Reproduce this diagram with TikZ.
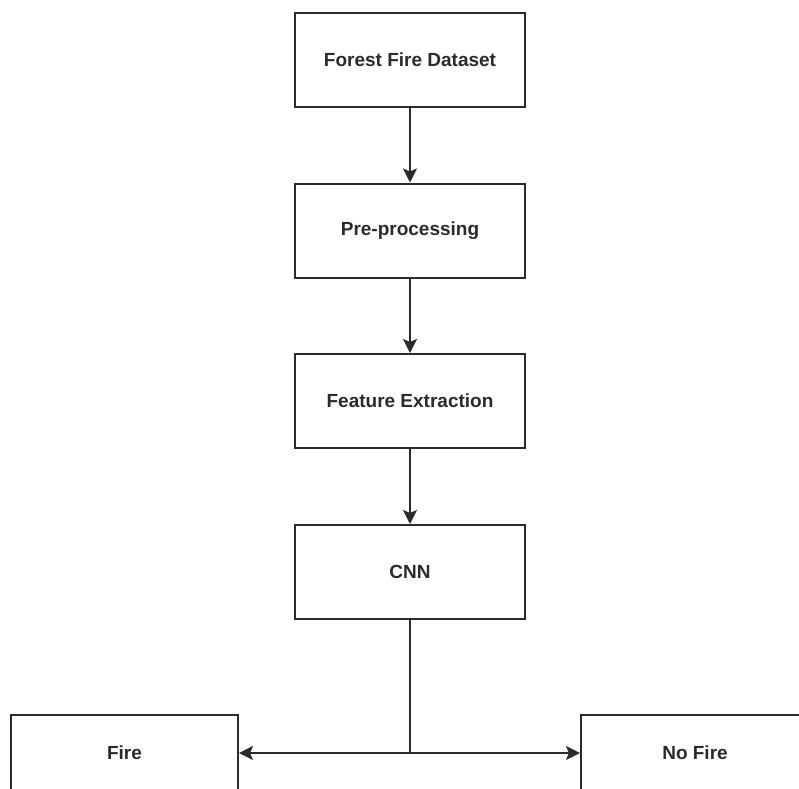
\documentclass[tikz,border=0pt]{standalone}
\usepackage{fontspec}
\setmainfont{Liberation Sans}
\usetikzlibrary{arrows.meta}
\definecolor{ink}{HTML}{2B2B2B}
\begin{document}
\begin{tikzpicture}[x=1pt,y=-1pt,
  box/.style={draw=ink,line width=2pt,rectangle,minimum width=230pt,minimum height=94pt,inner sep=0pt,
    font=\fontsize{19}{21}\selectfont\bfseries,text=ink},
  conn/.style={draw=ink,line width=2pt,-{Stealth[length=14pt,width=14pt,inset=3pt]}}]
\useasboundingbox[fill=white] (0,0) rectangle (799,788);
\node[box] (ds) at (410,60) {Forest Fire Dataset};
\node[box] (pre) at (410,230.5) {Pre-processing};
\node[box] (fe) at (410,401) {Feature Extraction};
\node[box] (cnn) at (410,572) {CNN};
\node[box,minimum width=227pt,minimum height=76pt] (fire) at (124.5,753) {Fire};
\node[box,minimum width=228pt,minimum height=76pt] (nofire) at (695,753) {No Fire};
\coordinate (split) at (410,753);
\draw[conn] (ds) -- (pre);
\draw[conn] (pre) -- (fe);
\draw[conn] (fe) -- (cnn);
\draw[draw=ink,line width=2pt] (cnn.south) -- (split);
\draw[conn] (split) -- (fire.east);
\draw[conn] (split) -- (nofire.west);
\end{tikzpicture}
\end{document}
